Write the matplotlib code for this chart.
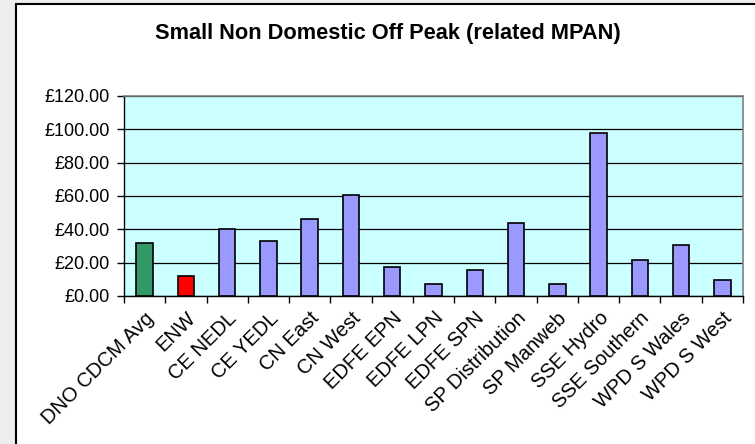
import matplotlib
matplotlib.use("Agg")
import matplotlib.pyplot as plt
from matplotlib.patches import Rectangle
from matplotlib.ticker import FuncFormatter, MultipleLocator

categories = ["DNO CDCM Avg", "ENW", "CE NEDL", "CE YEDL", "CN East", "CN West",
              "EDFE EPN", "EDFE LPN", "EDFE SPN", "SP Distribution", "SP Manweb",
              "SSE Hydro", "SSE Southern", "WPD S Wales", "WPD S West"]
values = [32.0, 12.1, 40.1, 32.9, 46.1, 60.6, 17.5, 7.2, 15.4, 44.1, 7.0,
          97.5, 21.7, 30.9, 9.4]
colors = ["#339966", "#FF0000"] + ["#9999FF"] * 13
title = "Small Non Domestic Off Peak (related MPAN)"

plt.rcParams['font.family'] = ['Liberation Sans', 'DejaVu Sans']

fig = plt.figure(figsize=(7.55, 4.44), dpi=100, facecolor="#EDEDED")
# white chart area with black border
fig.patches.append(Rectangle((16/755, -0.05), 1.0, 1 - 4/444 + 0.05,
                             transform=fig.transFigure, facecolor="white",
                             edgecolor="black", linewidth=1.5, zorder=-10))

ax = fig.add_axes([124/755, 1 - 296/444, (743 - 124)/755, (296 - 96)/444])
ax.set_zorder(5)
ax.set_facecolor("#CCFFFF")
x = list(range(len(categories)))
ax.bar(x, values, width=0.40, color=colors, edgecolor="black", linewidth=1.2, zorder=3)
ax.set_xlim(-0.5, len(categories) - 0.5)
ax.set_ylim(0, 120)
ax.yaxis.set_major_locator(MultipleLocator(20))
ax.yaxis.set_major_formatter(FuncFormatter(lambda v, p: "\u00a3%.2f" % v))
ax.grid(axis="y", color="black", linewidth=0.9, zorder=1)
ax.set_axisbelow(True)

ax.set_xticks([i - 0.5 for i in range(len(categories) + 1)])
ax.set_xticklabels([])
ax.set_xticks(x, minor=True)
ax.set_xticklabels(categories, minor=True, rotation=45, ha="right",
                   rotation_mode="anchor", fontsize=14.5)
ax.tick_params(axis="x", which="minor", length=0, pad=9)
ax.tick_params(axis="x", which="major", length=5, width=1, direction="out", color="black")
ax.tick_params(axis="y", length=5, width=1, direction="out", labelsize=13, pad=5)

for s in ["top", "right"]:
    ax.spines[s].set_color("#808080")
    ax.spines[s].set_linewidth(1.2)
for s in ["left", "bottom"]:
    ax.spines[s].set_color("black")
    ax.spines[s].set_linewidth(1.0)

fig.text(388/755, 1 - 38.5/444, title, ha="center", va="baseline",
         fontsize=15.7, fontweight="bold")

fig.savefig("out.png", dpi=100, facecolor=fig.get_facecolor())
